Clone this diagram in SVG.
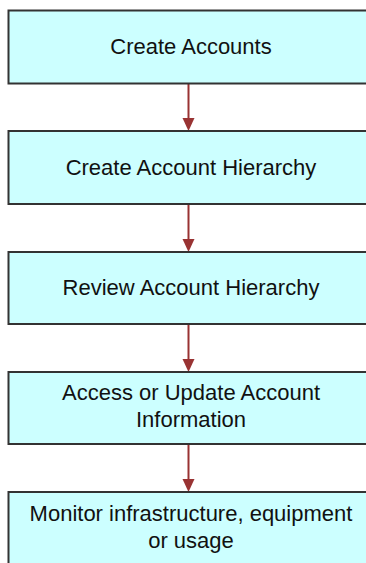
<svg xmlns="http://www.w3.org/2000/svg" width="366" height="563" viewBox="0 0 366 563">
<style>
.box{fill:#ccffff;stroke:#333333;stroke-width:2}
.lbl{font-family:"Liberation Sans",Arial,sans-serif;font-size:22px;fill:#111111;text-anchor:middle}
.con{stroke:#993333;stroke-width:2;fill:none}
.head{fill:#993333}
</style>
<rect width="366" height="563" fill="#ffffff"/>
<g id="connectors">
<line class="con" x1="188.5" y1="83" x2="188.5" y2="120"/>
<polygon class="head" points="182.5,118 194.5,118 188.5,131"/>
<line class="con" x1="188.5" y1="204" x2="188.5" y2="241"/>
<polygon class="head" points="182.5,239 194.5,239 188.5,252"/>
<line class="con" x1="188.5" y1="324" x2="188.5" y2="361"/>
<polygon class="head" points="182.5,359 194.5,359 188.5,372"/>
<line class="con" x1="188.5" y1="444" x2="188.5" y2="481"/>
<polygon class="head" points="182.5,479 194.5,479 188.5,492"/>
</g>
<g id="n1">
<rect class="box" x="8.5" y="10.5" width="370" height="73"/>
<text class="lbl" x="191" y="54">Create Accounts</text>
</g>
<g id="n2">
<rect class="box" x="8.5" y="131" width="370" height="73"/>
<text class="lbl" x="191" y="175">Create Account Hierarchy</text>
</g>
<g id="n3">
<rect class="box" x="8.5" y="252" width="370" height="72"/>
<text class="lbl" x="191" y="295">Review Account Hierarchy</text>
</g>
<g id="n4">
<rect class="box" x="8.5" y="372" width="370" height="72"/>
<text class="lbl" x="191" y="400">Access or Update Account</text>
<text class="lbl" x="191" y="427">Information</text>
</g>
<g id="n5">
<rect class="box" x="8.5" y="492" width="370" height="90"/>
<text class="lbl" x="191" y="521">Monitor infrastructure, equipment</text>
<text class="lbl" x="191" y="548">or usage</text>
</g>
</svg>
